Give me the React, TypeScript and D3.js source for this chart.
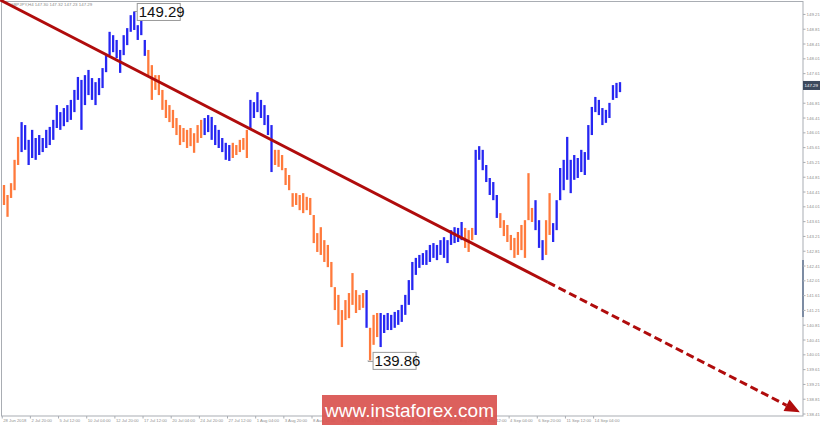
import React from 'react';
import * as d3 from 'd3';

// H4 bars, one drawn bar per two candles (high / low in JPY)
const highs = [
  144.60, 144.33, 144.65, 145.28, 145.90, 146.30, 146.22, 145.82, 146.09, 145.87,
  145.95, 145.87, 146.09, 146.17, 146.36, 146.76, 146.57, 146.68, 146.76, 146.90,
  147.17, 147.52, 147.44, 147.57, 147.71, 147.49, 147.38, 147.49, 147.76, 148.11,
  148.74, 148.65, 148.52, 148.25, 148.65, 148.84, 149.19, 149.29, 148.92, 149.06,
  148.52, 148.25, 147.84, 147.57, 147.57, 147.17, 146.90, 146.76, 146.63, 146.41,
  146.22, 146.14, 146.09, 146.14, 146.00, 146.22, 146.36, 146.41, 146.49, 146.44,
  146.22, 146.09, 145.87, 145.74, 145.68, 145.74, 145.68, 145.82, 145.87, 146.09,
  146.90, 146.84, 147.11, 146.90, 146.76, 146.49, 146.22, 145.55, 145.55, 145.41,
  145.06, 144.87, 144.38, 144.38, 144.33, 144.38, 144.28, 144.25, 143.79, 143.30,
  143.46, 143.11, 142.98, 142.52, 141.84, 141.63, 141.22, 141.49, 141.68, 142.22,
  141.76, 141.63, 141.68, 141.76, 140.74, 141.09, 141.14, 141.14, 141.09, 141.14,
  141.09, 141.17, 141.22, 141.36, 141.63, 142.03, 142.52, 142.63, 142.71, 142.76,
  142.84, 142.98, 143.03, 142.98, 143.11, 143.19, 143.11, 143.38, 143.46, 143.44,
  143.60, 143.44, 143.38, 143.44, 145.55, 145.65, 145.55, 145.14, 144.79, 144.68,
  144.33, 143.84, 143.65, 143.52, 143.25, 143.17, 143.33, 143.52, 143.65, 144.92,
  143.98, 144.19, 143.65, 143.11, 143.65, 144.38, 143.57, 144.19, 145.06, 145.28,
  145.90, 145.28, 145.41, 145.33, 145.55, 145.49, 146.22, 146.71, 146.98, 146.90,
  146.68, 146.63, 146.82, 147.30, 147.36, 147.38,
];
const lows = [
  144.06, 143.74, 144.25, 144.46, 145.14, 145.49, 145.55, 145.14, 145.33, 145.28,
  145.41, 145.49, 145.60, 145.68, 145.82, 146.14, 146.09, 146.19, 146.30, 146.36,
  146.57, 146.90, 146.09, 146.76, 147.03, 146.90, 146.76, 147.03, 147.22, 147.65,
  148.11, 148.19, 148.03, 147.63, 148.11, 148.38, 148.74, 148.79, 148.52, 148.65,
  148.09, 147.57, 146.90, 147.17, 147.03, 146.63, 146.41, 146.30, 146.14, 145.95,
  145.68, 145.76, 145.60, 145.65, 145.47, 145.74, 145.87, 145.95, 146.03, 145.82,
  145.68, 145.60, 145.49, 145.28, 145.25, 145.33, 145.41, 145.49, 145.55, 145.33,
  146.09, 146.41, 146.57, 146.41, 146.22, 145.95, 144.95, 145.14, 145.09, 145.00,
  144.60, 144.46, 144.01, 144.06, 143.92, 143.84, 143.92, 143.79, 143.03, 142.79,
  142.71, 142.52, 142.38, 141.84, 141.22, 140.82, 140.22, 140.95, 141.00, 141.36,
  141.14, 141.22, 141.28, 140.74, 139.86, 140.28, 140.49, 140.22, 140.60, 140.68,
  140.68, 140.74, 140.82, 140.90, 141.09, 141.36, 141.76, 142.17, 142.36, 142.44,
  142.44, 142.52, 142.63, 142.57, 142.71, 142.63, 142.49, 142.98, 143.03, 143.06,
  143.11, 142.90, 142.79, 143.11, 143.25, 145.28, 145.00, 144.68, 144.33, 144.19,
  143.71, 143.44, 143.22, 143.06, 142.84, 142.63, 142.71, 142.84, 142.63, 143.65,
  143.60, 143.38, 142.90, 142.57, 142.71, 143.25, 143.06, 143.38, 144.19, 144.46,
  144.74, 144.38, 144.74, 144.79, 144.95, 144.87, 145.28, 145.95, 146.57, 146.49,
  146.22, 146.28, 146.41, 146.90, 146.95, 147.11,
];

// bar index where each wave colour starts
const waveStarts = [0, 5, 41, 57, 65, 70, 77, 103, 104, 107, 131, 134, 141, 151, 154, 156];
const waveDirs = ['down', 'up', 'down', 'up', 'down', 'up', 'down', 'up', 'down', 'up', 'down', 'up', 'down', 'up', 'down', 'up'];

const yTicks = [
  149.21, 148.81, 148.41, 148.01, 147.61, 147.21, 146.81, 146.41, 146.01, 145.61,
  145.21, 144.81, 144.41, 144.01, 143.61, 143.21, 142.81, 142.41, 142.01, 141.61,
  141.21, 140.81, 140.41, 140.01, 139.61, 139.21, 138.81, 138.41,
];
const xLabels = [
  '28 Jun 2018', '2 Jul 20:00', '5 Jul 12:00', '10 Jul 04:00', '12 Jul 20:00', '17 Jul 12:00',
  '20 Jul 04:00', '24 Jul 20:00', '27 Jul 12:00', '1 Aug 04:00', '3 Aug 20:00', '8 Aug 12:00',
  '13 Aug 04:00', '15 Aug 20:00', '20 Aug 12:00', '23 Aug 04:00', '27 Aug 20:00', '30 Aug 12:00',
  '4 Sep 04:00', '6 Sep 20:00', '11 Sep 12:00', '14 Sep 04:00',
];
const barsPerLabel = 8;

const lastClose = 147.29;
const peak = { i: 37, p: 149.29 };
const trough = { i: 104, p: 139.86 };
// trend line: start, where it turns into a forecast, arrow tip
const trendFrom = { i: -1.1, p: 149.6 };
const trendDashFrom = 154.5;
const trendTo = { i: 226.1, p: 138.46 };

const COLORS = {
  up: '#2626f2',
  down: '#ff7a3c',
  trend: '#b00c0c',
  axisText: '#8f8f8f',
  frame: '#a9adb3',
};

const W = 820;
const H = 426;
const plotRight = 803;
const plotBottom = 416;
const font = '"Liberation Sans", Arial, sans-serif';

export default function App() {
  const x = d3.scaleLinear().domain([0, highs.length - 1]).range([4, 620]);
  const y = d3.scaleLinear().domain([138.6, 149.6]).range([407, 0]);

  const dirOf = (i: number) => {
    let d = waveDirs[0];
    waveStarts.forEach((s, k) => { if (i >= s) d = waveDirs[k]; });
    return d;
  };

  /* ── Trend line ─────────────────────────────────────────────── */
  const lerpP = (i: number) =>
    trendFrom.p + (trendTo.p - trendFrom.p) * (i - trendFrom.i) / (trendTo.i - trendFrom.i);
  const x0 = x(trendFrom.i), y0 = y(trendFrom.p);
  const xd = x(trendDashFrom), yd = y(lerpP(trendDashFrom));
  const xt = x(trendTo.i), yt = y(trendTo.p);
  const len = Math.hypot(xt - xd, yt - yd);
  const ux = (xt - xd) / len, uy = (yt - yd) / len;
  const headL = 15, headW = 6.5;
  const bx = xt - ux * headL, by = yt - uy * headL;
  const head = [
    [xt, yt],
    [bx - uy * headW, by + ux * headW],
    [bx + uy * headW, by - ux * headW],
  ].map(p => p.join(',')).join(' ');

  const peakX = x(peak.i), peakY = y(peak.p);
  const troughX = x(trough.i), troughY = y(trough.p);
  const closeY = y(lastClose);

  return (
    <div style={{ position: 'absolute', left: 0, top: 0, width: W, height: H, background: '#fff' }}>
      <svg width={W} height={H} style={{ display: 'block', fontFamily: font }}>
        <rect x={0} y={0} width={W} height={H} fill="#fff" />
        {/* frame */}
        <rect x={1.5} y={1.5} width={plotRight - 1.5} height={plotBottom - 1.5}
          fill="none" stroke={COLORS.frame} strokeWidth={1} />
        <rect x={plotRight - 1} y={260} width={2} height={57} fill="#7d8ca3" />

        {/* y axis */}
        {yTicks.map(t => (
          <g key={t}>
            <line x1={plotRight} x2={plotRight + 2.5} y1={y(t)} y2={y(t)} stroke={COLORS.frame} />
            <text x={plotRight + 3.5} y={y(t) + 1.6} fontSize={4.4} fill={COLORS.axisText}>{t.toFixed(2)}</text>
          </g>
        ))}

        {/* x axis */}
        {xLabels.map((l, k) => {
          const lx = x(k * barsPerLabel - 0.5);
          return (
            <g key={l}>
              <line x1={lx} x2={lx} y1={plotBottom} y2={plotBottom + 2.5} stroke={COLORS.frame} />
              <text x={lx + 1} y={plotBottom + 6} fontSize={4.2} fill={COLORS.axisText}>{l}</text>
            </g>
          );
        })}

        <text x={10} y={5.5} fontSize={4.4} fill="#8a8a8a">GBPJPY,H4  147.30 147.32 147.23 147.29</text>

        {/* bars */}
        {highs.map((h, i) => (
          <line key={i} x1={x(i)} x2={x(i)} y1={y(h)} y2={y(lows[i])}
            stroke={dirOf(i) === 'up' ? COLORS.up : COLORS.down} strokeWidth={2.3} />
        ))}

        {/* trend line and forecast */}
        <line x1={x0} y1={y0} x2={xd} y2={yd} stroke={COLORS.trend} strokeWidth={3} />
        <line x1={xd} y1={yd} x2={bx} y2={by} stroke={COLORS.trend} strokeWidth={3} strokeDasharray="8,4" />
        <polygon points={head} fill={COLORS.trend} />

        {/* extreme labels */}
        <polyline points={`${peakX},${peakY} ${peakX + 3},${peakY}`} fill="none" stroke="#777" strokeWidth={0.8} />
        <rect x={peakX + 3} y={peakY - 8} width={43} height={17} fill="#fff" stroke="#9a9a9a" strokeWidth={1} />
        <text x={peakX + 4.5} y={peakY + 5.5} fontSize={15} fill="#111">{peak.p.toFixed(2)}</text>

        <polyline points={`${troughX - 2},${troughY} ${troughX - 2},${troughY + 1} ${troughX + 3},${troughY + 1}`}
          fill="none" stroke="#777" strokeWidth={0.8} />
        <rect x={troughX + 3} y={troughY - 8} width={43} height={17} fill="#fff" stroke="#9a9a9a" strokeWidth={1} />
        <text x={troughX + 4.5} y={troughY + 5.5} fontSize={15} fill="#111">{trough.p.toFixed(2)}</text>

        {/* last price marker */}
        <rect x={plotRight} y={closeY - 4.5} width={17} height={9} fill="#3d4a5e" />
        <text x={plotRight + 1.5} y={closeY + 1.6} fontSize={4.4} fill="#fff">{lastClose.toFixed(2)}</text>

        {/* watermark */}
        <rect x={322} y={395} width={175} height={30} fill="#d9534f" opacity={0.92} />
        <text x={409.5} y={417} fontSize={19} fill="#fff" textAnchor="middle">www.instaforex.com</text>
      </svg>
    </div>
  );
}
